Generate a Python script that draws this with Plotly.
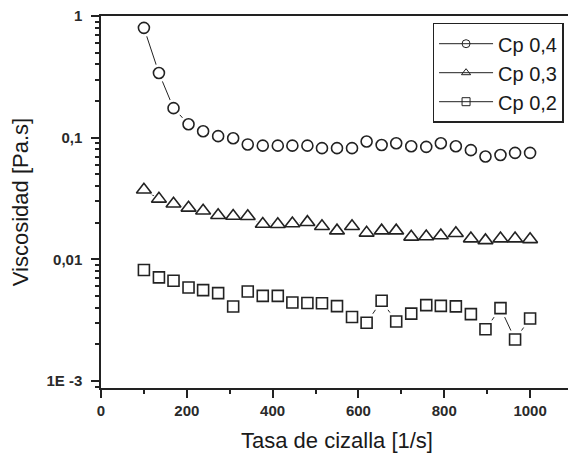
import plotly.graph_objects as go

shear_rate = [100, 135, 169, 204, 238, 273, 308, 342, 377, 412, 446, 481, 515, 550,
              585, 619, 654, 688, 723, 758, 792, 827, 862, 896, 931, 965, 1000]

cp04 = [0.80, 0.34, 0.175, 0.129, 0.113, 0.103, 0.099, 0.088, 0.086, 0.086, 0.086,
        0.086, 0.082, 0.082, 0.082, 0.093, 0.087, 0.090, 0.085, 0.084, 0.090, 0.085,
        0.079, 0.070, 0.072, 0.075, 0.075]
cp03 = [0.0373, 0.0314, 0.0286, 0.0265, 0.0251, 0.0230, 0.0227, 0.0226, 0.0195, 0.0194,
        0.0197, 0.0202, 0.0187, 0.0172, 0.0187, 0.0165, 0.0172, 0.0172, 0.0153, 0.0154,
        0.0157, 0.0164, 0.0148, 0.0143, 0.0148, 0.0148, 0.0146]
cp02 = [0.00816, 0.0071, 0.00667, 0.00587, 0.00558, 0.00527, 0.00409, 0.00544, 0.00501,
        0.00501, 0.00441, 0.00437, 0.00435, 0.00412, 0.00336, 0.00301, 0.00456, 0.00308,
        0.00358, 0.0042, 0.00414, 0.0041, 0.00354, 0.00266, 0.00397, 0.00219, 0.00326]

series = [("Cp 0,4", cp04, "circle-open", 11), ("Cp 0,3", cp03, "triangle-up-open", 13),
          ("Cp 0,2", cp02, "square-open", 11)]

y_tickvals = [1, 0.1, 0.01, 0.001]
y_ticktext = ["1", "0,1", "0,01", "1E -3"]
x_tickvals = [0, 200, 400, 600, 800, 1000]

INK = "#222222"
FONT = "Liberation Sans, Arial"
fig = go.Figure()

for name, vals, sym, size in series:
    base = sym.replace("-open", "")
    fig.add_trace(go.Scatter(x=shear_rate, y=vals, mode="lines",
                             line=dict(color=INK, width=1), showlegend=False, hoverinfo="skip"))
    fig.add_trace(go.Scatter(x=shear_rate, y=vals, mode="markers",
                             marker=dict(symbol=base, size=size + 7, color="white",
                                         line=dict(width=0)),
                             showlegend=False, hoverinfo="skip"))
    fig.add_trace(go.Scatter(x=shear_rate, y=vals, mode="markers", name=name,
                             marker=dict(symbol=base, size=size, color="white",
                                         line=dict(color=INK, width=1.6)),
                             showlegend=False))
    fig.add_trace(go.Scatter(x=[None], y=[None], mode="lines+markers", name=name,
                             line=dict(color=INK, width=1),
                             marker=dict(symbol=sym, size=8, color=INK,
                                         line=dict(color=INK, width=1))))

axis_common = dict(showline=True, linecolor=INK, linewidth=1.5, mirror=True,
                   ticks="outside", tickcolor=INK, tickwidth=1.5, ticklen=8,
                   showgrid=False, zeroline=False, automargin=False,
                   ticklabeloverflow="allow",
                   tickfont=dict(family=FONT, size=15, color="#2a2a2a", weight="bold"))

fig.update_xaxes(range=[0, 1100], tickvals=x_tickvals,
                 minor=dict(ticks="outside", dtick=100, ticklen=4, tickcolor=INK, tickwidth=1.5),
                 title=dict(text="Tasa de cizalla [1/s]",
                            font=dict(family=FONT, size=22, color="#1a1a1a"),
                            standoff=17),
                 **axis_common)
fig.update_yaxes(type="log", range=[-3.058, 0.0005], tickvals=y_tickvals, ticktext=y_ticktext,
                 minor=dict(ticks="outside", dtick="D1", ticklen=4, tickcolor=INK, tickwidth=1.5),
                 ticklabelstandoff=6,
                 title=dict(text="Viscosidad [Pa.s]",
                            font=dict(family=FONT, size=22, color="#1a1a1a"),
                            standoff=12),
                 **axis_common)

# the page body adds an 8px margin around the figure, so the figure is 8px smaller
fig.update_layout(
    width=568, height=445,
    margin=dict(l=93, r=3, t=8, b=65),
    paper_bgcolor="white", plot_bgcolor="white",
    showlegend=True,
    legend=dict(x=0.98, y=0.982, xanchor="right", yanchor="top",
                bgcolor="white", bordercolor=INK, borderwidth=1.5,
                font=dict(family=FONT, size=20, color="#1a1a1a"),
                itemwidth=54, tracegroupgap=0),
)

fig.write_html("out.html")
